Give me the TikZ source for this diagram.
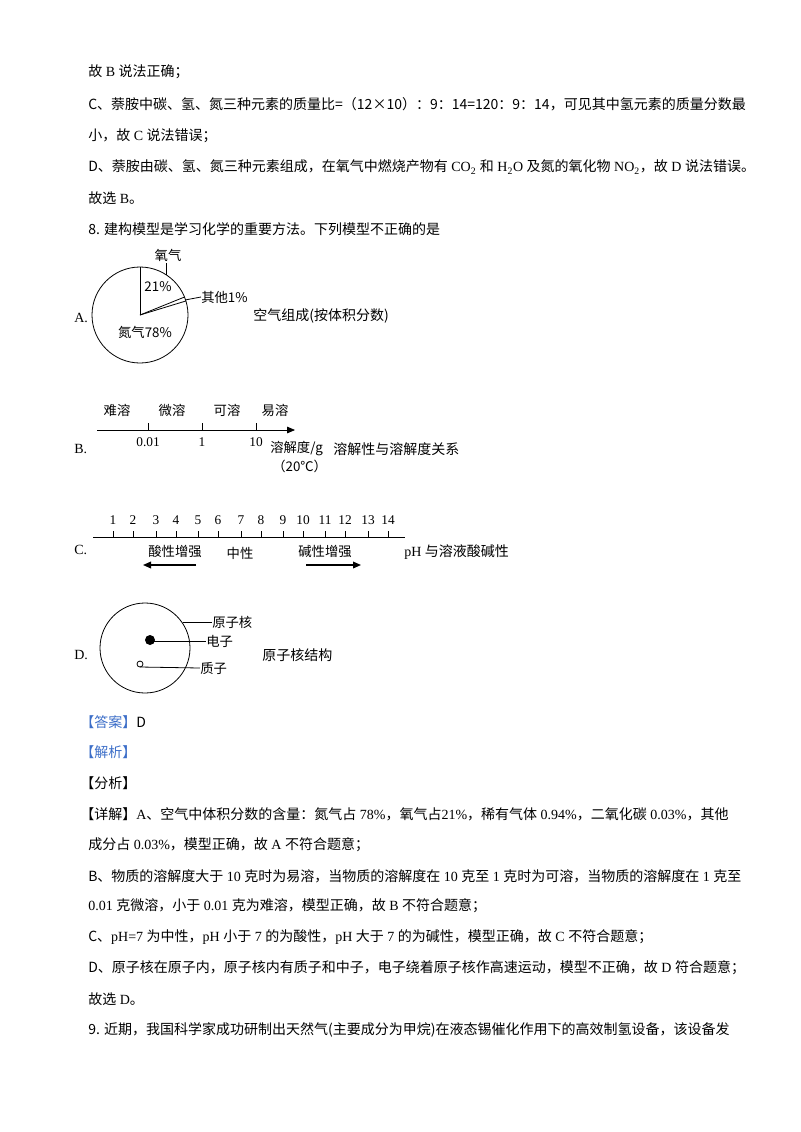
\documentclass[tikz,border=0pt]{standalone}
\usepackage{fontspec}
\setmainfont{Noto Sans CJK SC}
\newfontfamily\lat{Liberation Serif}
\usetikzlibrary{arrows.meta}
\definecolor{hdblue}{RGB}{60,110,200}
\tikzset{
  x=0.75pt,y=-0.75pt,
  txt/.style={anchor=west,inner sep=0pt,font=\fontsize{10.5}{12}\selectfont},
  lbl/.style={inner sep=0pt,font=\fontsize{10}{12}\selectfont},
  thin line/.style={line width=0.6pt},
}
\begin{document}
\begin{tikzpicture}
\useasboundingbox (0,0) rectangle (800,1132);
\fill[white] (0,0) rectangle (800,1132);
% text lines
\node[txt] (l1) at (88,72) {故{\lat\ B\ }说法正确；};
\node[txt] (l2) at (88,104) {C、萘胺中碳、氢、氮三种元素的质量比=（12×10）：9：14=120：9：14，可见其中氢元素的质量分数最};
\node[txt] (l3) at (88,136) {小，故{\lat\ C\ }说法错误；};
\node[txt] (l4) at (88,167) {D、萘胺由碳、氢、氮三种元素组成，在氧气中燃烧产物有{\lat\ CO\textsubscript{2}\ }和{\lat\ H\textsubscript{2}O\ }及氮的氧化物{\lat\ NO\textsubscript{2}}，故{\lat\ D\ }说法错误。};
\node[txt] (l5) at (88,198) {故选{\lat\ B}。};
\node[txt] (l6) at (88,229) {8. 建构模型是学习化学的重要方法。下列模型不正确的是};
% A pie
\node[txt] (A) at (74,318) {\lat A.};
\coordinate (pc) at (140,315);
\draw[thin line] (pc) circle[radius=48];
\draw[thin line] (pc) -- ++(0,-48);
\draw[thin line] (pc) -- ++(-22:48);
\draw[thin line] (pc) -- ++(-17:48);
\draw[thin line] (166,263) -- (166,275);
\node[lbl] (ox) at (168,255) {氧气};
\node[lbl] (p21) at (158,287) {21\%};
\node[lbl,anchor=west] (oth) at (201,297) {其他1\%};
\draw[thin line] (185,300) -- (oth.west);
\node[lbl] (n2) at (145,332) {氮气78\%};
\node[txt] (acap) at (253,316) {空气组成(按体积分数)};
% B axis
\node[txt] (B) at (74,449) {\lat B.};
\coordinate (b0) at (97,430);
\coordinate (b1) at (295,430);
\draw[thin line,-{Triangle[length=6pt,width=5pt]}] (b0) -- (b1);
\foreach \xx/\t in {148/0.01,202/1,256/10}{
  \draw[thin line] (\xx,423) -- (\xx,430);
  \node[lbl] at (\xx,442) {\lat \t};
}
\node[lbl] at (117,410) {难溶};
\node[lbl] at (172,410) {微溶};
\node[lbl] at (227,410) {可溶};
\node[lbl] at (275,410) {易溶};
\node[lbl,anchor=west] (sd) at (270,449) {溶解度/g};
\node[lbl,anchor=west] (t20) at (272,466) {（20℃）};
\node[txt] (bcap) at (333,449) {溶解性与溶解度关系};
% C axis
\node[txt] (C) at (74,550) {\lat C.};
\draw[thin line] (93,537) -- (405,537);
\foreach \xx/\n in {113/1,133/2,156/3,176/4,198/5,218/6,241/7,261/8,283/9,303/10,325/11,345/12,368/13,388/14}{
  \draw[thin line] (\xx,531) -- (\xx,537);
  \node[lbl] at (\xx,520) {\lat \n};
}
\node[lbl] (acid) at (175,551) {酸性增强};
\node[lbl] (neu) at (240,553) {中性};
\node[lbl] (base) at (325,551) {碱性增强};
\draw[line width=1pt,-{Triangle[length=6pt,width=5pt]}] (196,565) -- (143,565);
\draw[line width=1pt,-{Triangle[length=6pt,width=5pt]}] (306,565) -- (361,565);
\node[txt] (ccap) at (404,552) {{\lat pH\ }与溶液酸碱性};
% D atom
\node[txt] (D) at (74,655) {\lat D.};
\draw[thin line] (145,648) circle[radius=45];
\fill (150,640) circle[radius=5];
\draw[thin line] (140,664) circle[radius=3];
\node[lbl,anchor=west] (nuc) at (212,622) {原子核};
\node[lbl,anchor=west] (ele) at (206,641) {电子};
\node[lbl,anchor=west] (pro) at (200,668) {质子};
\draw[thin line] (183,622) -- (nuc.west);
\draw[thin line] (150,641) -- (ele.west);
\draw[thin line] (140,667) -- (pro.west);
\node[txt] (dcap) at (262,655) {原子核结构};
% answer
\node[txt] (ans) at (80,722) {{\color{hdblue}【答案】}D};
\node[txt] (jx) at (80,752) {{\color{hdblue}【解析】}};
\node[txt] (fx) at (80,783) {【分析】};
\node[txt] (x1) at (80,814) {【详解】{\lat A}、空气中体积分数的含量：氮气占{\lat\ 78\%}，氧气占{\lat 21\%}，稀有气体{\lat\ 0.94\%}，二氧化碳{\lat\ 0.03\%}，其他};
\node[txt] (x2) at (88,845) {成分占{\lat\ 0.03\%}，模型正确，故{\lat\ A\ }不符合题意；};
\node[txt] (x3) at (88,876) {B、物质的溶解度大于{\lat\ 10\ }克时为易溶，当物质的溶解度在{\lat\ 10\ }克至{\lat\ 1\ }克时为可溶，当物质的溶解度在{\lat\ 1\ }克至};
\node[txt] (x4) at (88,906) {{\lat 0.01\ }克微溶，小于{\lat\ 0.01\ }克为难溶，模型正确，故{\lat\ B\ }不符合题意；};
\node[txt] (x5) at (88,937) {C、{\lat pH=7\ }为中性，{\lat pH\ }小于{\lat\ 7\ }的为酸性，{\lat pH\ }大于{\lat\ 7\ }的为碱性，模型正确，故{\lat\ C\ }不符合题意；};
\node[txt] (x6) at (88,968) {D、原子核在原子内，原子核内有质子和中子，电子绕着原子核作高速运动，模型不正确，故{\lat\ D\ }符合题意；};
\node[txt] (x7) at (88,999) {故选{\lat\ D}。};
\node[txt] (x8) at (88,1030) {9. 近期，我国科学家成功研制出天然气(主要成分为甲烷)在液态锡催化作用下的高效制氢设备，该设备发};
\end{tikzpicture}
\end{document}
